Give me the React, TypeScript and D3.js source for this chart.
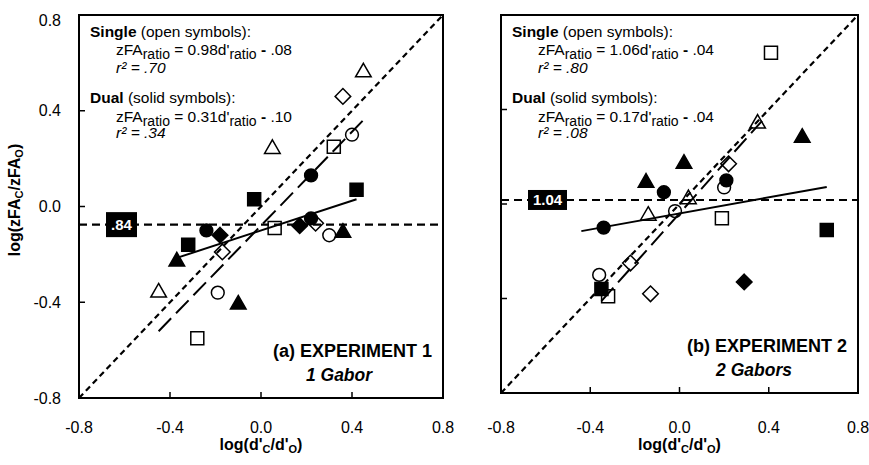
import React from 'react';
import * as d3 from 'd3';

// ---------- data ----------
const xTicks = [-0.8, -0.4, 0.0, 0.4, 0.8];
const yTicks = [-0.8, -0.4, 0.0, 0.4, 0.8];

// Experiment 1 (1 Gabor)
const exp1X = [0.45, 0.05, -0.45, 0.36, 0.24, -0.17, 0.40, 0.30, -0.19, 0.32, 0.06, -0.28,
  0.22, 0.22, -0.24, 0.42, -0.03, -0.32, 0.17, -0.18, 0.36, -0.37, -0.10];
const exp1Y = [0.57, 0.25, -0.35, 0.46, -0.07, -0.19, 0.30, -0.12, -0.36, 0.25, -0.09, -0.55,
  0.13, -0.05, -0.10, 0.07, 0.03, -0.16, -0.08, -0.12, -0.10, -0.22, -0.40];
const exp1Shape = ['triangle', 'triangle', 'triangle', 'diamond', 'diamond', 'diamond', 'circle', 'circle', 'circle', 'square', 'square', 'square',
  'circle', 'circle', 'circle', 'square', 'square', 'square', 'diamond', 'diamond', 'triangle', 'triangle', 'triangle'];
const exp1Filled = [false, false, false, false, false, false, false, false, false, false, false, false,
  true, true, true, true, true, true, true, true, true, true, true];

// Experiment 2 (2 Gabors)
const exp2X = [0.41, 0.19, -0.32, 0.35, 0.04, -0.14, 0.22, -0.22, -0.13, 0.20, -0.02, -0.36,
  0.55, 0.02, -0.15, 0.21, -0.07, -0.34, 0.66, -0.35, 0.29];
const exp2Y = [0.64, -0.06, -0.39, 0.35, 0.03, -0.04, 0.17, -0.25, -0.38, 0.07, -0.03, -0.30,
  0.29, 0.18, 0.10, 0.10, 0.05, -0.10, -0.11, -0.36, -0.33];
const exp2Shape = ['square', 'square', 'square', 'triangle', 'triangle', 'triangle', 'diamond', 'diamond', 'diamond', 'circle', 'circle', 'circle',
  'triangle', 'triangle', 'triangle', 'circle', 'circle', 'circle', 'square', 'square', 'diamond'];
const exp2Filled = [false, false, false, false, false, false, false, false, false, false, false, false,
  true, true, true, true, true, true, true, true, true];

// regression fits [slope, intercept, xmin, xmax]
const exp1SingleFit = [0.98, -0.08, -0.45, 0.45];
const exp1DualFit = [0.31, -0.10, -0.36, 0.42];
const exp2SingleFit = [1.06, -0.04, -0.35, 0.37];
const exp2DualFit = [0.17, -0.04, -0.44, 0.66];

// criterion ratio
const exp1Criterion = 0.84;
const exp2Criterion = 1.04;

const exp1Texts = ['0.98', '.08', '.70', '0.31', '.10', '.34'];
const exp2Texts = ['1.06', '.04', '.80', '0.17', '.04', '.08'];

// ---------- drawing ----------
const FONT = "'Liberation Sans', Arial, sans-serif";

function symbolPath(shape: string, cx: number, cy: number): string {
  if (shape === 'square') {
    const h = 6.5;
    return `M${cx - h},${cy - h}H${cx + h}V${cy + h}H${cx - h}Z`;
  }
  if (shape === 'triangle') {
    const w = 7.8, h = 6.8;
    return `M${cx},${cy - h}L${cx + w},${cy + h}L${cx - w},${cy + h}Z`;
  }
  if (shape === 'diamond') {
    const d = 7.8;
    return `M${cx},${cy - d}L${cx + d},${cy}L${cx},${cy + d}L${cx - d},${cy}Z`;
  }
  const r = 6.4;
  return `M${cx + r},${cy}A${r},${r} 0 1,1 ${cx - r},${cy}A${r},${r} 0 1,1 ${cx + r},${cy}Z`;
}

const fmt = (d: number) => d.toFixed(1);

function Panel(props: any) {
  const { box, xs, ys, shapes, filled, singleFit, dualFit, criterion, texts, showYLabels, title, subtitle, titleX, titleY, boxX, boxW, boxH } = props;
  const x = d3.scaleLinear().domain([-0.8, 0.8]).range([box.left, box.right]);
  const y = d3.scaleLinear().domain([-0.8, 0.8]).range([box.bottom, box.top]);
  const line = d3.line<[number, number]>().x(d => x(d[0])).y(d => y(d[1]));
  const fitPts = (f: number[]): [number, number][] => [[f[2], f[0] * f[2] + f[1]], [f[3], f[0] * f[3] + f[1]]];
  const crit = Math.log10(criterion);
  const tx = box.left + 11;
  const ex = box.left + 37;
  const base = box.top;
  const FS = 15.5;
  const SUB = 14;
  const eqLine = (slope: string, ic: string, yy: number) => (
    <text x={ex} y={yy} fontSize={FS} fontFamily={FONT}>
      zFA<tspan fontSize={SUB} dy={4}>ratio</tspan>
      <tspan dy={-4}> = {slope}d'</tspan>
      <tspan fontSize={SUB} dy={4}>ratio</tspan>
      <tspan dy={-4}> </tspan><tspan fontWeight="bold">-</tspan><tspan> {ic}</tspan>
    </text>
  );
  const critLabel = criterion.toFixed(2).replace(/^0/, '');
  return (
    <g>
      {/* symbols */}
      {xs.map((v: number, i: number) => (
        <path key={i} d={symbolPath(shapes[i], x(v), y(ys[i]))}
          fill={filled[i] ? '#000' : 'none'} stroke="#000" strokeWidth={1.5} />
      ))}
      {/* identity line */}
      <path d={line([[-0.8, -0.8], [0.8, 0.8]]) || ''} stroke="#000" strokeWidth={2.2} strokeDasharray="6,4" fill="none" />
      {/* criterion line */}
      <path d={line([[-0.8, crit], [0.8, crit]]) || ''} stroke="#000" strokeWidth={2.2} strokeDasharray="8,5" fill="none" />
      {/* single fit */}
      <path d={line(fitPts(singleFit)) || ''} stroke="#000" strokeWidth={2} strokeDasharray="18,7" fill="none" />
      {/* dual fit */}
      <path d={line(fitPts(dualFit)) || ''} stroke="#000" strokeWidth={2} fill="none" />
      {/* criterion box */}
      <rect x={boxX} y={y(crit) - boxH / 2} width={boxW} height={boxH} fill="#000" />
      <text x={boxX + boxW / 2} y={y(crit) + 5.5} textAnchor="middle" fill="#fff" fontWeight="bold" fontSize={15} fontFamily={FONT}>{critLabel}</text>
      {/* frame */}
      <rect x={box.left} y={box.top} width={box.right - box.left} height={box.bottom - box.top} fill="none" stroke="#000" strokeWidth={2} />
      {/* ticks */}
      {xTicks.map((t, i) => (
        <g key={'xt' + i}>
          <line x1={x(t)} x2={x(t)} y1={box.bottom} y2={box.bottom - 6} stroke="#000" strokeWidth={1.5} />
          <text x={x(t)} y={433} textAnchor="middle" fontSize={16} fontFamily={FONT}>{fmt(t)}</text>
        </g>
      ))}
      {yTicks.map((t, i) => (
        <g key={'yt' + i}>
          <line x1={box.left} x2={box.left + 6} y1={y(t)} y2={y(t)} stroke="#000" strokeWidth={1.5} />
          {showYLabels && (
            <text x={box.left - 18} y={Math.max(y(t), box.top + 5) + 5.5} textAnchor="end" fontSize={16} fontFamily={FONT}>{fmt(t)}</text>
          )}
        </g>
      ))}
      {/* x label */}
      <text x={(box.left + box.right) / 2} y={450} textAnchor="middle" fontSize={16} fontWeight="bold" fontFamily={FONT}>
        log(d'<tspan fontSize={11} dy={3}>C</tspan><tspan dy={-3}>/d'</tspan><tspan fontSize={11} dy={3}>O</tspan><tspan dy={-3}>)</tspan>
      </text>
      {/* annotation */}
      <text x={tx} y={base + 22} fontSize={FS} fontFamily={FONT}><tspan fontWeight="bold">Single</tspan> (open symbols):</text>
      {eqLine(texts[0], texts[1], base + 40)}
      <text x={ex} y={base + 58} fontSize={FS} fontStyle="italic" fontFamily={FONT}>r² = {texts[2]}</text>
      <text x={tx} y={base + 88} fontSize={FS} fontFamily={FONT}><tspan fontWeight="bold">Dual</tspan> (solid symbols):</text>
      {eqLine(texts[3], texts[4], base + 107)}
      <text x={ex} y={base + 123} fontSize={FS} fontStyle="italic" fontFamily={FONT}>r² = {texts[5]}</text>
      {/* title */}
      <text x={titleX} y={titleY} textAnchor="end" fontSize={18} fontWeight="bold" fontFamily={FONT}>{title}</text>
      <text x={titleX - 93} y={titleY + 24} textAnchor="middle" fontSize={17.5} fontWeight="bold" fontStyle="italic" fontFamily={FONT}>{subtitle}</text>
    </g>
  );
}

export default function App() {
  return (
    <svg width={869} height={465} style={{ position: 'absolute', left: 0, top: 0, background: '#fff' }}>
      <rect x={0} y={0} width={869} height={465} fill="#fff" />
      <Panel box={{ left: 79, right: 443, top: 15, bottom: 398 }}
        xs={exp1X} ys={exp1Y} shapes={exp1Shape} filled={exp1Filled}
        singleFit={exp1SingleFit} dualFit={exp1DualFit} criterion={exp1Criterion}
        texts={exp1Texts} showYLabels={true} boxX={106} boxW={31} boxH={25}
        title="(a) EXPERIMENT 1" subtitle="1 Gabor" titleX={432} titleY={357} />
      <Panel box={{ left: 501, right: 858, top: 15, bottom: 393 }}
        xs={exp2X} ys={exp2Y} shapes={exp2Shape} filled={exp2Filled}
        singleFit={exp2SingleFit} dualFit={exp2DualFit} criterion={exp2Criterion}
        texts={exp2Texts} showYLabels={false} boxX={528} boxW={39} boxH={20}
        title="(b) EXPERIMENT 2" subtitle="2 Gabors" titleX={847} titleY={352} />
      <text transform="translate(20,200) rotate(-90)" textAnchor="middle" fontSize={16} fontWeight="bold" fontFamily={FONT}>
        log(zFA<tspan fontSize={11} dy={3}>C</tspan><tspan dy={-3}>/zFA</tspan><tspan fontSize={11} dy={3}>O</tspan><tspan dy={-3}>)</tspan>
      </text>
    </svg>
  );
}
